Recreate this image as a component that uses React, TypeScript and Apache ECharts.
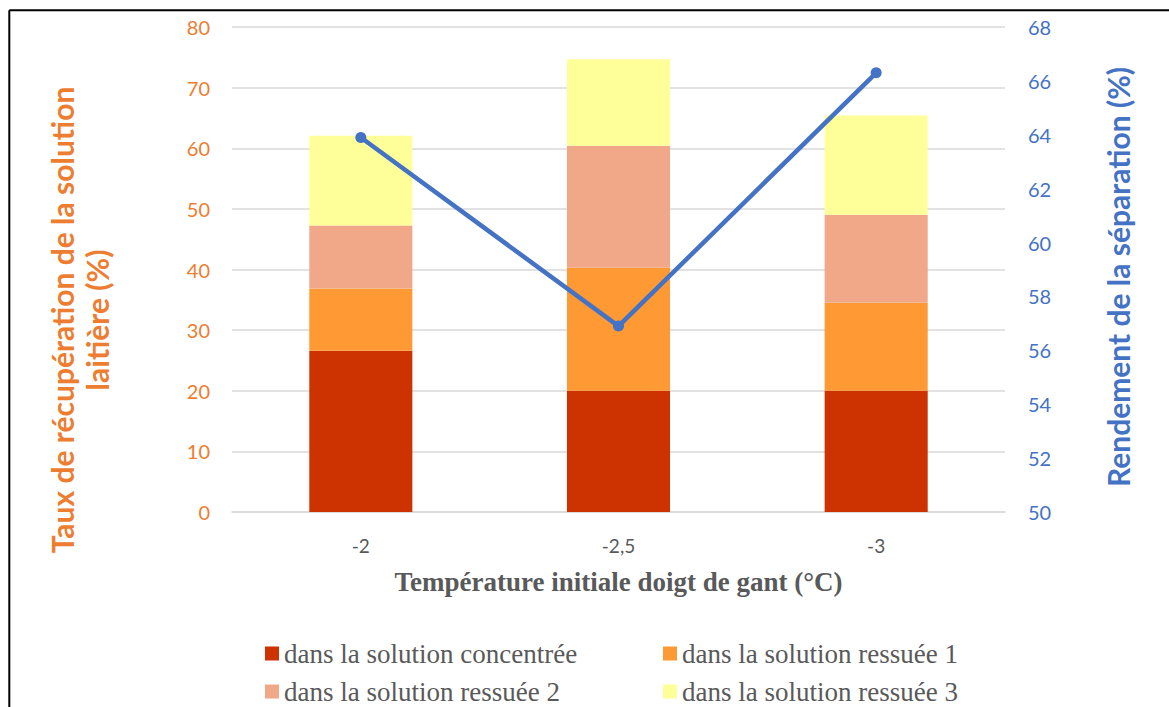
import React, { useEffect, useRef } from "react";
import * as echarts from "echarts";

const categories = ["-2", "-2,5", "-3"];
const concentree = [26.6, 20.0, 20.0];
const ressuee1 = [10.25, 20.3, 14.5];
const ressuee2 = [10.4, 20.1, 14.55];
const ressuee3 = [14.8, 14.3, 16.35];
const rendement = [63.9, 56.9, 66.3];

const seriesNames = [
  "dans la solution concentrée",
  "dans la solution ressuée 1",
  "dans la solution ressuée 2",
  "dans la solution ressuée 3",
];
const barColors = ["#CC3300", "#FF9933", "#F0A889", "#FFFF99"];

export default function App() {
  const ref = useRef<HTMLDivElement>(null);
  useEffect(() => {
    if (!ref.current) return;
    const chart = echarts.init(ref.current, null, { renderer: "svg" });
    const sansFont = "Lato, 'Open Sans', sans-serif";
    const serifFont = "'Liberation Serif', 'DejaVu Serif', serif";
    const barData = [concentree, ressuee1, ressuee2, ressuee3];
    const legendPos = [
      { left: 265, top: 640 },
      { left: 663, top: 640 },
      { left: 265, top: 678 },
      { left: 663, top: 678 },
    ];
    chart.setOption({
      animation: false,
      backgroundColor: "#ffffff",
      grid: { left: 232, right: 164, top: 27, bottom: 195, containLabel: false },
      legend: seriesNames.map((n, i) => ({
        data: [n],
        left: legendPos[i].left,
        top: legendPos[i].top,
        icon: "rect",
        itemWidth: 14,
        itemHeight: 14,
        itemGap: 0,
        padding: 0,
        textStyle: { fontFamily: serifFont, fontSize: 27, color: "#595959" },
      })),
      xAxis: {
        type: "category",
        data: categories,
        axisLine: { lineStyle: { color: "#D9D9D9", width: 1.5 } },
        axisTick: { show: false },
        axisLabel: { color: "#595959", fontSize: 19, fontFamily: sansFont, margin: 24 },
        name: "Température initiale doigt de gant (°C)",
        nameLocation: "middle",
        nameGap: 56,
        nameTextStyle: {
          fontFamily: serifFont,
          fontWeight: "bold",
          fontSize: 27,
          color: "#595959",
        },
      },
      yAxis: [
        {
          type: "value",
          min: 0,
          max: 80,
          interval: 10,
          axisLine: { show: false },
          axisTick: { show: false },
          splitLine: { lineStyle: { color: "#D9D9D9", width: 1.5 } },
          axisLabel: { color: "#ED7D31", fontSize: 20, fontFamily: sansFont, margin: 22 },
        },
        {
          type: "value",
          min: 50,
          max: 68,
          interval: 2,
          position: "right",
          axisLine: { show: false },
          axisTick: { show: false },
          splitLine: { show: false },
          axisLabel: { color: "#4472C4", fontSize: 20, fontFamily: sansFont, margin: 23 },
        },
      ],
      series: [
        ...barData.map((d, i) => ({
          type: "bar",
          name: seriesNames[i],
          stack: "total",
          data: d,
          barWidth: "40%",
          itemStyle: { color: barColors[i] },
          yAxisIndex: 0,
        })),
        {
          type: "line",
          name: "Rendement",
          data: rendement,
          yAxisIndex: 1,
          symbol: "circle",
          symbolSize: 11,
          lineStyle: { color: "#4472C4", width: 4.5 },
          itemStyle: { color: "#4472C4" },
        },
      ],
      graphic: [
        {
          type: "line",
          shape: { x1: 9.3, y1: 10.3, x2: 1169, y2: 10.3 },
          style: { stroke: "#000000", lineWidth: 2 },
        },
        {
          type: "line",
          shape: { x1: 9.3, y1: 10.3, x2: 9.3, y2: 707 },
          style: { stroke: "#000000", lineWidth: 2 },
        },
        {
          type: "text",
          x: 62,
          y: 320,
          rotation: Math.PI / 2,
          style: {
            text: "Taux de récupération de la solution",
            font: `bold 30px ${sansFont}`,
            fill: "#ED7D31",
            align: "center",
            verticalAlign: "middle",
          },
        },
        {
          type: "text",
          x: 97,
          y: 320,
          rotation: Math.PI / 2,
          style: {
            text: "laitière (%)",
            font: `bold 30px ${sansFont}`,
            fill: "#ED7D31",
            align: "center",
            verticalAlign: "middle",
          },
        },
        {
          type: "text",
          x: 1118,
          y: 277,
          rotation: Math.PI / 2,
          style: {
            text: "Rendement de la séparation (%)",
            font: `bold 30px ${sansFont}`,
            fill: "#4472C4",
            align: "center",
            verticalAlign: "middle",
          },
        },
      ],
    });
    return () => chart.dispose();
  }, []);
  return (
    <div
      ref={ref}
      style={{ position: "fixed", left: 0, top: 0, width: 1169, height: 707 }}
    />
  );
}
